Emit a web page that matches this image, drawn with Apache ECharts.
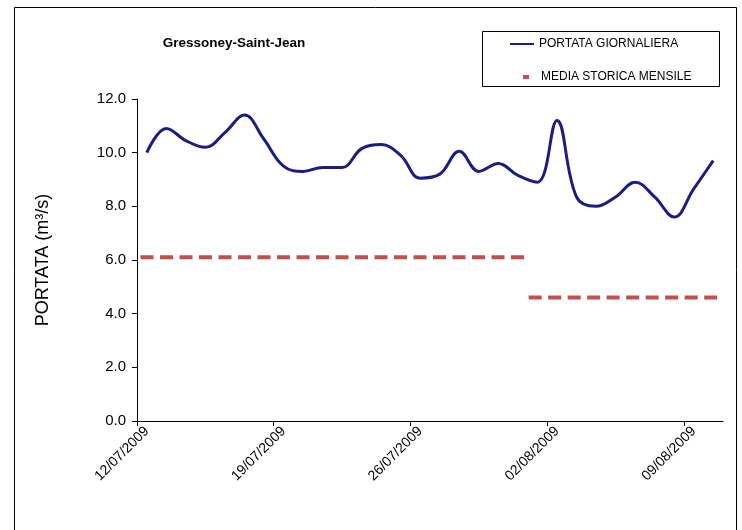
<!DOCTYPE html>
<html><head><meta charset="utf-8">
<script src="https://cdn.jsdelivr.net/npm/echarts@6/dist/echarts.min.js"></script>
<style>html,body{margin:0;padding:0;background:#fff}#c{width:742px;height:530px}</style>
</head><body><div id="c"></div>
<script>
// Daily dates (categories)
const dates = [
  '12/07/2009','13/07/2009','14/07/2009','15/07/2009','16/07/2009','17/07/2009','18/07/2009',
  '19/07/2009','20/07/2009','21/07/2009','22/07/2009','23/07/2009','24/07/2009','25/07/2009',
  '26/07/2009','27/07/2009','28/07/2009','29/07/2009','30/07/2009','31/07/2009',
  '01/08/2009','02/08/2009','03/08/2009','04/08/2009','05/08/2009','06/08/2009','07/08/2009',
  '08/08/2009','09/08/2009','10/08/2009'
];
// Daily discharge (m3/s)
const portata = [
  10.0, 10.9, 10.45, 10.2, 10.75, 11.4, 10.5, 9.5, 9.3, 9.45,
  9.45, 10.15, 10.3, 9.9, 9.05, 9.2, 10.05, 9.3, 9.6, 9.15,
  8.9, 11.2, 8.35, 8.0, 8.35, 8.9, 8.35, 7.6, 8.65, 9.7
];
// Historical monthly means
const meanMonths = ['07', '08'];
const meanValues = [6.1, 4.6];
// Y axis ticks
const yMin = 0, yMax = 12, yStep = 2;
const labelEvery = 7;

const NAVY = '#1f1d7c';
const RED = '#c0504d';
const FONT = '"Liberation Sans", Arial, sans-serif';

// day-boundary positions of the weekly ticks
const tickDays = dates.map((d, i) => i).filter(i => i % labelEvery === 0);

// build mean segments spanning each month's days
const meanSeries = meanMonths.map((m, k) => {
  const idx = dates.map((d, i) => d.slice(3, 5) === m ? i : -1).filter(i => i >= 0);
  const start = idx[0], end = idx[idx.length - 1] + 1;
  return {
    name: 'MEDIA STORICA MENSILE',
    type: 'line',
    xAxisIndex: 1,
    symbol: 'none',
    silent: true,
    data: [[start, meanValues[k]], [end, meanValues[k]]],
    lineStyle: { color: RED, width: 4, type: [13, 6.5], dashOffset: k === 0 ? 16 : 18.5, cap: 'butt' },
    itemStyle: { color: RED }
  };
});

const chart = echarts.init(document.getElementById('c'), null, { renderer: 'canvas' });
chart.setOption({
  animation: false,
  backgroundColor: '#fff',
  textStyle: { fontFamily: FONT },
  graphic: [
    { type: 'rect', shape: { x: 14.5, y: 7.5, width: 722, height: 540 }, style: { fill: 'none', stroke: '#000', lineWidth: 1 }, silent: true },
    { type: 'rect', shape: { x: 482.5, y: 31.5, width: 237, height: 55 }, style: { fill: '#fff', stroke: '#000', lineWidth: 1 }, silent: true, z: -1 },
    { type: 'text', x: 234, y: 43, style: { text: 'Gressoney-Saint-Jean', font: 'bold 13.5px ' + FONT, fill: '#000', textAlign: 'center', textVerticalAlign: 'middle' } }
  ],
  legend: [
    {
      data: [{ name: 'PORTATA GIORNALIERA', icon: 'rect' }],
      left: 510, top: 38, padding: 0, itemWidth: 24, itemHeight: 2,
      itemStyle: { color: NAVY },
      textStyle: { fontSize: 12, color: '#000', fontFamily: FONT },
      selectedMode: false
    },
    {
      data: [{ name: 'MEDIA STORICA MENSILE', icon: 'rect' }],
      left: 523, top: 71, padding: 0, itemWidth: 6, itemHeight: 4,
      textStyle: { fontSize: 12, color: '#000', fontFamily: FONT, padding: [0, 0, 0, 7] },
      itemStyle: { color: RED },
      selectedMode: false
    }
  ],
  grid: { left: 137, right: 19, top: 99, bottom: 109, containLabel: false },
  xAxis: [
    {
      type: 'category',
      data: dates,
      boundaryGap: true,
      axisLine: { lineStyle: { color: '#000', width: 1 } },
      axisTick: { show: false },
      axisLabel: { interval: (i) => i % labelEvery === 0, rotate: 45, fontSize: 14, color: '#000', margin: 8, fontFamily: FONT },
      splitLine: { show: false }
    },
    {
      type: 'value', min: 0, max: dates.length, position: 'bottom',
      axisLine: { show: false },
      axisTick: { show: true, customValues: tickDays, length: 5, lineStyle: { color: '#000' } },
      axisLabel: { show: false },
      splitLine: { show: false }
    }
  ],
  yAxis: {
    type: 'value',
    min: yMin, max: yMax, interval: yStep,
    name: 'PORTATA (m³/s)',
    nameLocation: 'middle',
    nameRotate: 90,
    nameGap: 85,
    nameTextStyle: { fontSize: 18, color: '#000', fontFamily: FONT },
    axisLine: { show: true, lineStyle: { color: '#000', width: 1 } },
    axisTick: { show: true, length: 5, lineStyle: { color: '#000' } },
    axisLabel: { fontSize: 15, color: '#000', margin: 11, formatter: v => v.toFixed(1), fontFamily: FONT },
    splitLine: { show: false }
  },
  series: [
    {
      name: 'PORTATA GIORNALIERA',
      type: 'line',
      data: portata,
      smooth: 0.4,
      symbol: 'none',
      lineStyle: { color: NAVY, width: 3 },
      itemStyle: { color: NAVY },
      z: 3
    }
  ].concat(meanSeries)
});
</script></body></html>
